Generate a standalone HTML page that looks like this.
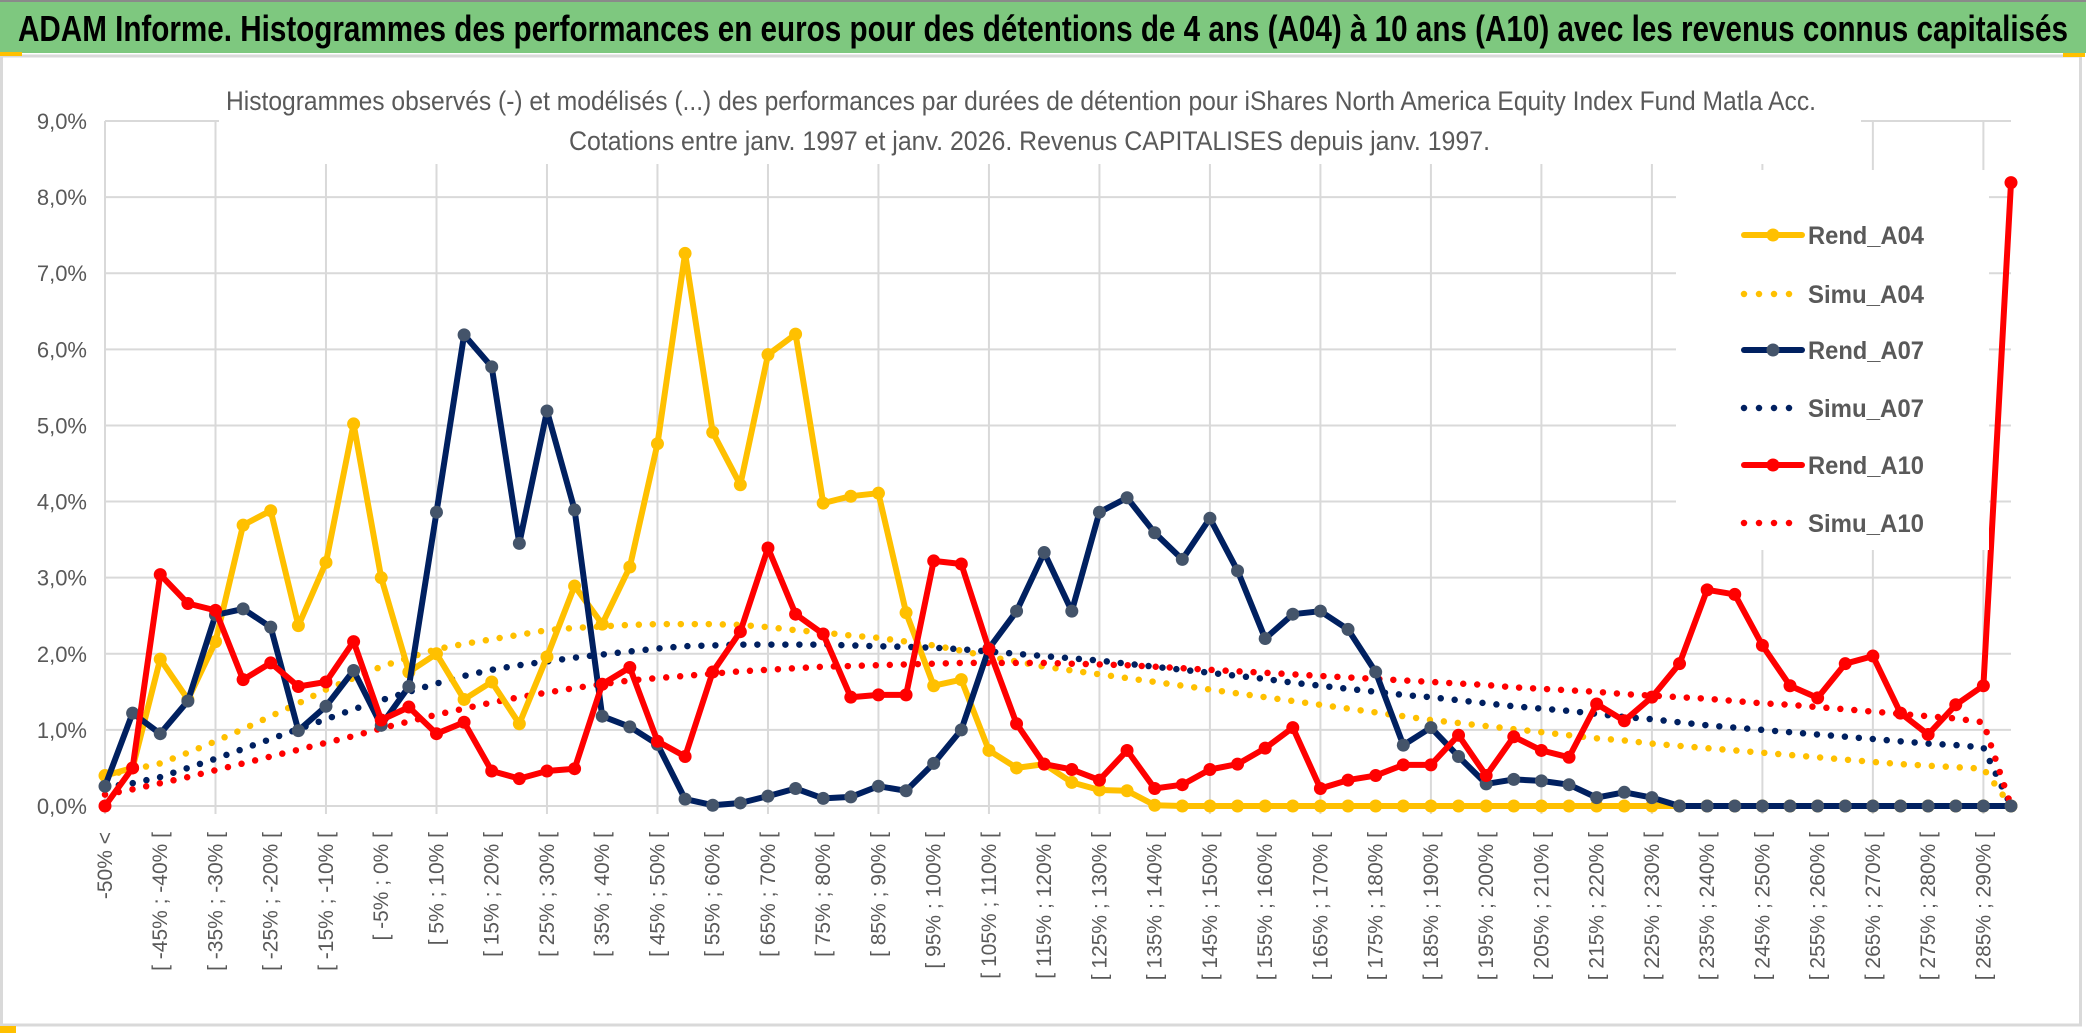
<!DOCTYPE html>
<html><head><meta charset="utf-8">
<style>
html,body{margin:0;padding:0;background:#fff;}
svg{display:block;}
text{font-family:"Liberation Sans",sans-serif;}
</style></head>
<body>
<svg id="chart" width="2086" height="1033" viewBox="0 0 2086 1033" xmlns="http://www.w3.org/2000/svg">
<rect x="0" y="0" width="2086" height="1033" fill="#fff"/>
<rect x="0" y="2" width="2086" height="51" fill="#7ec87f"/>
<line x1="0" y1="1" x2="2086" y2="1" stroke="#8a8a8a" stroke-width="2"/>
<text x="18" y="41" font-size="36" font-weight="bold" fill="#000" textLength="2050" lengthAdjust="spacingAndGlyphs">ADAM Informe. Histogrammes des performances en euros pour des détentions de 4 ans (A04) à 10 ans (A10) avec les revenus connus capitalisés</text>
<rect x="1.5" y="56" width="2079" height="969" fill="none" stroke="#d9d9d9" stroke-width="3"/>
<rect x="0" y="52" width="22" height="4" fill="#ffc000"/>
<rect x="0" y="1026" width="16" height="7" fill="#ffc000"/>
<rect x="2063" y="53" width="22" height="4" fill="#ffc000"/>
<g id="grid"></g>
<g id="yaxis"></g>
<g id="xaxis"></g>
<rect x="219" y="58" width="1642" height="106" fill="#fff"/>
<text x="226" y="110" font-size="27" fill="#595959" textLength="1590" lengthAdjust="spacingAndGlyphs">Histogrammes observés (-) et modélisés (...) des performances par durées de détention pour iShares North America Equity Index Fund Matla Acc.</text>
<text x="569" y="150" font-size="27" fill="#595959" textLength="921" lengthAdjust="spacingAndGlyphs">Cotations entre janv. 1997 et janv. 2026. Revenus CAPITALISES depuis janv. 1997.</text>
<g id="series"></g>
<rect x="1676" y="170" width="313" height="380" fill="#fff"/>
<g id="legend"></g>
</svg>
<script>
const rendA04 = [0.40,0.50,1.93,1.40,2.16,3.69,3.88,2.37,3.20,5.02,3.00,1.76,2.00,1.40,1.63,1.08,1.96,2.89,2.39,3.14,4.76,7.26,4.91,4.22,5.93,6.20,3.98,4.07,4.11,2.54,1.58,1.66,0.73,0.50,0.55,0.31,0.21,0.20,0.01,0,0,0,0,0,0,0,0,0,0,0,0,0,0,0,0,0,0,0,0,0,0,0,0,0,0,0,0,0,0,0];
const simuA04 = [0.40,0.48,0.56,0.70,0.85,1.01,1.18,1.35,1.53,1.68,1.83,1.95,2.06,2.13,2.19,2.25,2.31,2.34,2.36,2.38,2.39,2.39,2.39,2.38,2.35,2.31,2.28,2.24,2.21,2.16,2.11,2.04,1.96,1.90,1.83,1.78,1.73,1.68,1.63,1.58,1.53,1.48,1.43,1.38,1.33,1.28,1.23,1.18,1.13,1.09,1.05,1.01,0.97,0.93,0.89,0.86,0.82,0.79,0.76,0.73,0.70,0.67,0.64,0.61,0.58,0.55,0.53,0.51,0.49,0];
const rendA07 = [0.26,1.22,0.95,1.38,2.51,2.59,2.35,0.99,1.31,1.78,1.06,1.57,3.86,6.19,5.77,3.45,5.19,3.89,1.18,1.04,0.81,0.09,0.01,0.04,0.13,0.23,0.10,0.12,0.26,0.20,0.56,1.00,2.07,2.56,3.33,2.56,3.86,4.05,3.59,3.24,3.78,3.09,2.20,2.52,2.56,2.32,1.76,0.80,1.03,0.65,0.29,0.35,0.33,0.28,0.11,0.18,0.11,0,0,0,0,0,0,0,0,0,0,0,0,0];
const simuA07 = [0.25,0.30,0.38,0.50,0.62,0.75,0.88,1.01,1.14,1.27,1.39,1.50,1.61,1.71,1.79,1.85,1.90,1.95,1.99,2.03,2.07,2.10,2.11,2.12,2.12,2.12,2.12,2.11,2.10,2.09,2.08,2.06,2.03,2.00,1.97,1.94,1.91,1.87,1.83,1.79,1.75,1.71,1.67,1.62,1.58,1.54,1.50,1.46,1.43,1.39,1.35,1.31,1.28,1.25,1.21,1.17,1.14,1.10,1.06,1.03,1.00,0.97,0.94,0.91,0.88,0.85,0.82,0.80,0.77,0];
const rendA10 = [0,0.50,3.04,2.66,2.57,1.66,1.88,1.57,1.63,2.16,1.13,1.30,0.95,1.10,0.46,0.36,0.46,0.49,1.60,1.82,0.85,0.65,1.76,2.29,3.39,2.52,2.26,1.43,1.46,1.46,3.22,3.18,2.06,1.08,0.55,0.48,0.34,0.73,0.23,0.28,0.48,0.55,0.76,1.03,0.23,0.34,0.40,0.54,0.54,0.93,0.40,0.91,0.73,0.64,1.34,1.12,1.43,1.87,2.84,2.78,2.11,1.58,1.42,1.87,1.97,1.22,0.94,1.33,1.58,8.19];
const simuA10 = [0.15,0.22,0.30,0.38,0.47,0.56,0.65,0.74,0.83,0.92,1.02,1.11,1.20,1.28,1.36,1.43,1.49,1.55,1.60,1.65,1.68,1.71,1.74,1.77,1.79,1.81,1.83,1.84,1.85,1.86,1.87,1.88,1.88,1.88,1.88,1.87,1.86,1.85,1.83,1.81,1.79,1.77,1.75,1.73,1.71,1.69,1.67,1.65,1.63,1.61,1.59,1.56,1.54,1.52,1.50,1.47,1.45,1.43,1.41,1.38,1.35,1.33,1.30,1.27,1.24,1.21,1.18,1.15,1.10,0];
const yTicks = [0,1,2,3,4,5,6,7,8,9];
const yTickLabels = ["0,0%","1,0%","2,0%","3,0%","4,0%","5,0%","6,0%","7,0%","8,0%","9,0%"];
const seriesNames = ["Rend_A04","Simu_A04","Rend_A07","Simu_A07","Rend_A10","Simu_A10"];
const categories = ["-50% <"];
for (let k = -50; k < 295; k += 5) categories.push("[ " + k + "% ; " + (k + 5) + "% [");

const NS = "http://www.w3.org/2000/svg";
const X0 = 105, X1 = 2011, Y0 = 806, YTOP = 121;
const nCat = categories.length;
function xAt(i){ return X0 + i * (X1 - X0) / (nCat - 1); }
function yAt(v){ return Y0 - v * (Y0 - YTOP) / 9; }
function mk(tag, attrs, parent){ const e = document.createElementNS(NS, tag); for (const k in attrs) e.setAttribute(k, attrs[k]); parent.appendChild(e); return e; }

const grid = document.getElementById('grid');
yTicks.forEach(function(t){
  const l = mk('line', {x1:X0, x2:X1, y1:yAt(t), y2:yAt(t), stroke:'#d9d9d9', 'stroke-width':2}, grid);
  
  
});
for (let i = 0; i < nCat; i += 4) {
  const l = mk('line', {x1:xAt(i), x2:xAt(i), y1:YTOP, y2:Y0 + 8, stroke:'#d9d9d9', 'stroke-width':2}, grid);
  
  
}
const yax = document.getElementById('yaxis');
yTicks.forEach(function(t, k){
  const tx = mk('text', {x:87, y:yAt(t) + 8, 'text-anchor':'end', 'font-size':22, fill:'#595959'}, yax);
  tx.textContent = yTickLabels[k];
  
  
});
const xax = document.getElementById('xaxis');
for (let i = 0; i < nCat; i += 2) {
  const x = xAt(i) + 7;
  const tx = mk('text', {x:x, y:832, 'text-anchor':'end', 'font-size':21, fill:'#595959', transform:'rotate(-90 ' + x + ' 832)'}, xax);
  tx.textContent = categories[i];
  
  
}

const ser = document.getElementById('series');
function pts(arr){ return arr.map(function(v, i){ return xAt(i).toFixed(1) + ',' + yAt(v).toFixed(1); }).join(' '); }
function dotted(arr, color, name){
  const p = mk('polyline', {points:pts(arr), fill:'none', stroke:color, 'stroke-width':6.5, 'stroke-linecap':'round', 'stroke-dasharray':'0 14'}, ser);
  
  
}
function solid(arr, color, mcol, name){
  const g = mk('g', {}, ser);
  
  
  mk('polyline', {points:pts(arr), fill:'none', stroke:color, 'stroke-width':6, 'stroke-linejoin':'round'}, g);
  arr.forEach(function(v, i){
    const c = mk('circle', {cx:xAt(i), cy:yAt(v), r:6.5, fill:mcol}, g);
    
    
  });
}
dotted(simuA04, '#ffc000', 'simu-a04-line');
dotted(simuA07, '#002060', 'simu-a07-line');
dotted(simuA10, '#ff0000', 'simu-a10-line');
solid(rendA04, '#ffc000', '#ffc000', 'rend-a04-line');
solid(rendA07, '#002060', '#44546a', 'rend-a07-line');
solid(rendA10, '#ff0000', '#ff0000', 'rend-a10-line');

const leg = document.getElementById('legend');
const legY = [235, 294, 350, 408, 465, 523];
const legColor = ['#ffc000','#ffc000','#002060','#002060','#ff0000','#ff0000'];
const legMarker = ['#ffc000',null,'#44546a',null,'#ff0000',null];
seriesNames.forEach(function(n, k){
  const g = mk('g', {}, leg);
  
  
  const y = legY[k];
  if (legMarker[k]) {
    mk('line', {x1:1744, x2:1802, y1:y, y2:y, stroke:legColor[k], 'stroke-width':6, 'stroke-linecap':'round'}, g);
    mk('circle', {cx:1773, cy:y, r:6.5, fill:legMarker[k]}, g);
  } else {
    mk('line', {x1:1744, x2:1802, y1:y, y2:y, stroke:legColor[k], 'stroke-width':6.5, 'stroke-linecap':'round', 'stroke-dasharray':'0 15'}, g);
  }
  const t = mk('text', {x:1808, y:y + 9, 'font-size':25, 'font-weight':'bold', fill:'#595959', textLength:116, lengthAdjust:'spacingAndGlyphs'}, g);
  t.textContent = n;
});
</script>
</body></html>
